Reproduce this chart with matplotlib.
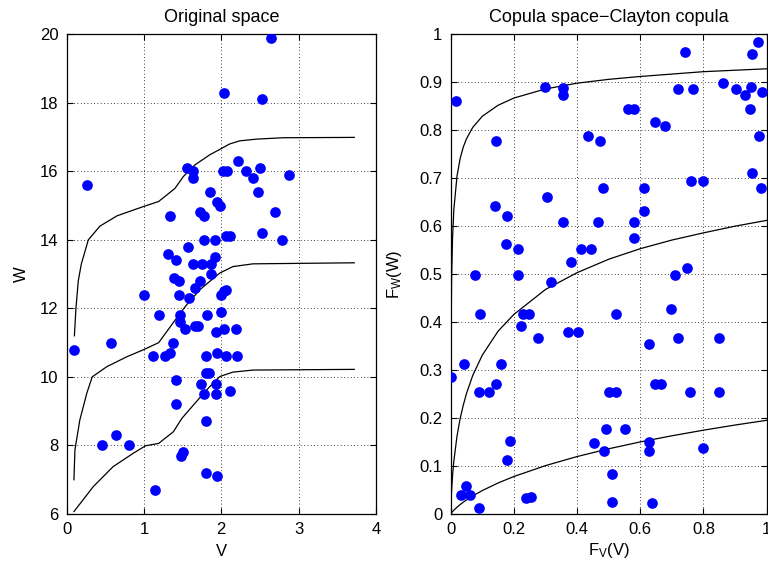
import matplotlib
matplotlib.use("Agg")
import matplotlib.pyplot as plt

plt.rcParams['font.family'] = ['Liberation Sans', 'DejaVu Sans']
plt.rcParams['mathtext.default'] = 'regular'

# ---------------- Original space data (V, W) ----------------
V = [2.64, 2.04, 2.53, 0.26, 1.56, 1.64, 1.63, 2.22, 2.02, 2.08, 2.32, 2.41, 2.50, 2.87,
     2.48, 1.85, 1.95, 1.98, 1.34, 1.72, 1.77, 2.70, 2.52, 2.78, 1.77, 1.92, 2.06, 2.11,
     1.57, 1.31, 1.41, 1.92, 1.63, 1.75, 1.87, 1.87, 1.39, 1.45, 1.72, 1.66, 2.03, 2.06,
     2.00, 1.00, 1.45, 1.58, 1.19, 1.47, 1.81, 2.00, 1.46, 1.53, 1.66, 1.70, 1.93, 2.03,
     2.19, 1.38, 1.12, 1.27, 1.34, 1.80, 1.95, 2.06, 2.20, 1.80, 1.84, 1.42, 1.74, 1.93,
     1.77, 1.93, 2.11, 1.41, 1.80, 1.50, 1.48, 1.80, 1.94, 1.14, 0.09, 0.57, 0.46, 0.64,
     0.80]
W = [19.9, 18.3, 18.1, 15.6, 16.1, 16.0, 15.8, 16.3, 16.0, 16.0, 16.0, 15.8, 16.1, 15.9,
     15.4, 15.4, 15.1, 15.0, 14.7, 14.8, 14.7, 14.8, 14.2, 14.0, 14.0, 14.0, 14.1, 14.1,
     13.8, 13.6, 13.4, 13.5, 13.3, 13.3, 13.3, 13.0, 12.9, 12.8, 12.8, 12.6, 12.5, 12.55,
     12.4, 12.4, 12.4, 12.3, 11.8, 11.8, 11.8, 11.9, 11.6, 11.4, 11.5, 11.5, 11.3, 11.4,
     11.4, 11.0, 10.6, 10.6, 10.7, 10.6, 10.7, 10.6, 10.6, 10.1, 10.1, 9.9, 9.8, 9.8,
     9.5, 9.5, 9.6, 9.2, 8.7, 7.8, 7.7, 7.2, 7.1, 6.7, 10.8, 11.0, 8.0, 8.3,
     8.0]

# contour curves in original space
top_v = [0.10, 0.12, 0.15, 0.19, 0.28, 0.43, 0.65, 0.99, 1.19, 1.40, 1.51, 1.66, 1.85, 1.98, 2.11, 2.24, 2.46, 2.80, 3.72]
top_w = [11.2, 12.0, 12.8, 13.3, 14.0, 14.4, 14.7, 14.97, 15.12, 15.5, 15.85, 16.19, 16.48, 16.64, 16.8, 16.89, 16.94, 16.98, 16.99]
mid_v = [0.094, 0.107, 0.17, 0.26, 0.33, 0.52, 0.78, 0.99, 1.19, 1.40, 1.55, 1.72, 1.90, 1.98, 2.15, 2.41, 3.72]
mid_w = [7.0, 7.87, 8.74, 9.52, 10.0, 10.30, 10.59, 10.79, 11.0, 11.65, 12.1, 12.54, 12.88, 13.03, 13.22, 13.30, 13.33]
bot_v = [0.094, 0.345, 0.60, 0.86, 1.02, 1.19, 1.38, 1.49, 1.64, 1.81, 1.98, 2.15, 2.41, 3.72]
bot_w = [6.07, 6.8, 7.38, 7.77, 7.99, 8.06, 8.40, 8.79, 9.18, 9.62, 10.01, 10.14, 10.2, 10.22]

# ---------------- Copula space data (F_V, F_W) ----------------
FV = [0.016, 0.145, 0.300, 0.356, 0.356, 0.561, 0.579, 0.434, 0.474, 0.645, 0.677, 0.740,
      0.719, 0.767, 0.863, 0.903, 0.931, 0.950, 0.947, 0.955, 0.971, 0.986, 0.976, 0.952,
      0.981, 0.760, 0.798, 0.613, 0.613, 0.579, 0.579, 0.482, 0.465, 0.305, 0.356, 0.412,
      0.444, 0.381, 0.139, 0.179, 0.174, 0.213, 0.076, 0.213, 0.316, 0.710, 0.749, 0.002,
      0.042, 0.089, 0.121, 0.145, 0.158, 0.093, 0.221, 0.229, 0.249, 0.277, 0.370, 0.402,
      0.523, 0.698, 0.720, 0.850, 0.628, 0.502, 0.523, 0.645, 0.666, 0.758, 0.850, 0.187,
      0.179, 0.491, 0.551, 0.452, 0.484, 0.628, 0.628, 0.798, 0.512, 0.512, 0.637, 0.034,
      0.047, 0.061, 0.089, 0.237, 0.253]
FW = [0.860, 0.778, 0.891, 0.887, 0.873, 0.844, 0.844, 0.788, 0.778, 0.818, 0.809, 0.962,
      0.885, 0.885, 0.899, 0.885, 0.873, 0.891, 0.844, 0.958, 0.984, 0.879, 0.788, 0.710,
      0.679, 0.695, 0.695, 0.679, 0.632, 0.609, 0.576, 0.679, 0.609, 0.660, 0.609, 0.552,
      0.552, 0.525, 0.641, 0.621, 0.563, 0.552, 0.499, 0.499, 0.484, 0.499, 0.513, 0.285,
      0.313, 0.255, 0.255, 0.270, 0.313, 0.416, 0.392, 0.416, 0.416, 0.366, 0.379, 0.379,
      0.416, 0.427, 0.366, 0.366, 0.354, 0.255, 0.255, 0.270, 0.270, 0.255, 0.255, 0.153,
      0.113, 0.177, 0.177, 0.147, 0.131, 0.149, 0.131, 0.137, 0.083, 0.024, 0.022, 0.040,
      0.059, 0.040, 0.013, 0.034, 0.036]

# conditional quantile curves in copula space
cop_u = [0, 1e-5, 1e-4, 3e-4, 0.001, 0.003, 0.006, 0.01, 0.02, 0.03, 0.04, 0.05, 0.07,
         0.1, 0.15, 0.2, 0.3, 0.4, 0.5, 0.6, 0.7, 0.8, 0.9, 1.0]
q90 = [0, 0.026, 0.123, 0.219, 0.355, 0.493, 0.576, 0.634, 0.704, 0.741, 0.765, 0.782, 0.806,
       0.829, 0.852, 0.867, 0.886, 0.898, 0.906, 0.912, 0.917, 0.922, 0.925, 0.928]
q50 = [0, 0.0004, 0.003, 0.008, 0.022, 0.050, 0.080, 0.110, 0.162, 0.199, 0.227, 0.251, 0.289,
       0.331, 0.381, 0.416, 0.468, 0.503, 0.531, 0.553, 0.571, 0.586, 0.600, 0.612]
q10 = [0, 0, 0.0001, 0.0003, 0.001, 0.0027, 0.005, 0.0079, 0.0141, 0.0196, 0.0246, 0.0292, 0.0377,
       0.0488, 0.0646, 0.0781, 0.1008, 0.1197, 0.1359, 0.1502, 0.1630, 0.1747, 0.1854, 0.1953]

left_xticks = [0, 1, 2, 3, 4]
left_yticks = [6, 8, 10, 12, 14, 16, 18, 20]
right_ticks = [0, 0.1, 0.2, 0.3, 0.4, 0.5, 0.6, 0.7, 0.8, 0.9, 1]
right_xticks = [0, 0.2, 0.4, 0.6, 0.8, 1]
right_xlabels = ['0', '0.2', '0.4', '0.6', '0.8', '1']
right_ylabels = ['0', '0.1', '0.2', '0.3', '0.4', '0.5', '0.6', '0.7', '0.8', '0.9', '1']

FS = 12

fig = plt.figure(figsize=(7.68, 5.69), dpi=100)
ax1 = fig.add_axes([0.0868, 0.0967, 0.4027, 0.8431])
ax2 = fig.add_axes([0.5868, 0.0967, 0.4115, 0.8431])


def style(ax):
    ax.grid(True, color='black', linestyle=(0, (1, 3)), linewidth=0.6)
    ax.set_axisbelow(True)
    ax.tick_params(direction='in', top=True, right=True, length=4, width=0.8,
                   labelsize=FS, pad=6)
    for s in ax.spines.values():
        s.set_linewidth(0.9)


# left panel
ax1.plot(V, W, 'o', color='#0000ff', markersize=7.7, markeredgewidth=0, zorder=3)
ax1.plot(top_v, top_w, color='black', linewidth=0.9, zorder=2)
ax1.plot(mid_v, mid_w, color='black', linewidth=0.9, zorder=2)
ax1.plot(bot_v, bot_w, color='black', linewidth=0.9, zorder=2)
ax1.set_xlim(0, 4)
ax1.set_ylim(6, 20)
ax1.set_xticks(left_xticks)
ax1.set_yticks(left_yticks)
style(ax1)
ax1.set_title('Original space', fontsize=13, pad=9)
ax1.set_xlabel('V', fontsize=FS, labelpad=5)
ax1.set_ylabel('W', fontsize=FS, labelpad=8)

# right panel
ax2.plot(FV, FW, 'o', color='#0000ff', markersize=7.7, markeredgewidth=0, zorder=3)
ax2.plot(cop_u, q90, color='black', linewidth=0.9, zorder=2)
ax2.plot(cop_u, q50, color='black', linewidth=0.9, zorder=2)
ax2.plot(cop_u, q10, color='black', linewidth=0.9, zorder=2)
ax2.set_xlim(0, 1)
ax2.set_ylim(0, 1)
ax2.set_xticks(right_xticks)
ax2.set_xticklabels(right_xlabels)
ax2.set_yticks(right_ticks)
ax2.set_yticklabels(right_ylabels)
style(ax2)
ax2.set_title('Copula space\u2212Clayton copula', fontsize=13, pad=9)
ax2.set_xlabel('$F_V(V)$', fontsize=FS, labelpad=3)
ax2.set_ylabel('$F_W(W)$', fontsize=FS, labelpad=11)

fig.savefig('out.png', dpi=100)
